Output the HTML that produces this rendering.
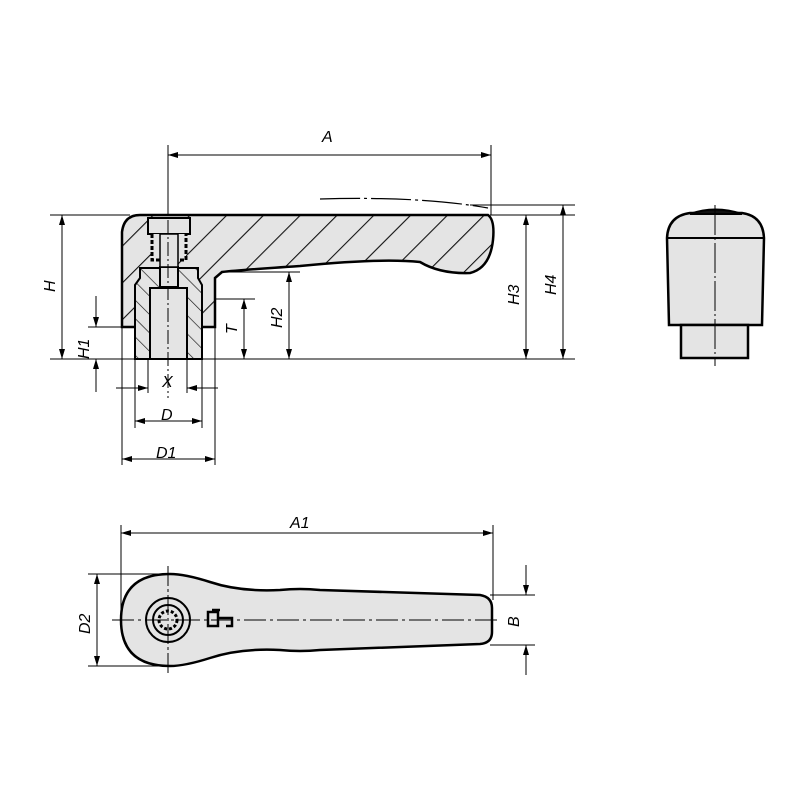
<!DOCTYPE html>
<html><head><meta charset="utf-8"><style>html,body{margin:0;padding:0;background:#fff}svg{display:block}</style></head><body>
<svg width="800" height="800" viewBox="0 0 800 800" xmlns="http://www.w3.org/2000/svg" font-family="Liberation Sans, sans-serif">
<defs>
<pattern id="h" patternUnits="userSpaceOnUse" width="26" height="26" patternTransform="rotate(45)">
<rect width="26" height="26" fill="#e4e4e4"/><line x1="0" y1="0" x2="0" y2="26" stroke="#111" stroke-width="2.2"/></pattern>
<pattern id="h2" patternUnits="userSpaceOnUse" width="13" height="13" patternTransform="rotate(-45)">
<rect width="13" height="13" fill="#e4e4e4"/><line x1="0" y1="0" x2="0" y2="13" stroke="#111" stroke-width="1.3"/></pattern>
<marker id="a" viewBox="0 0 10 6" refX="10" refY="3" markerWidth="14" markerHeight="6" markerUnits="userSpaceOnUse" orient="auto-start-reverse"><path d="M0,0L10,3L0,6z" fill="#000"/></marker>
</defs>
<g stroke="#000" stroke-width="1" fill="none">
<line x1="168" y1="145" x2="168" y2="230"/><line x1="491" y1="145" x2="491" y2="215"/>
<line x1="50" y1="215" x2="130" y2="215"/><line x1="490" y1="215" x2="575" y2="215"/>
<line x1="470" y1="205" x2="575" y2="205"/>
<line x1="50" y1="359" x2="575" y2="359"/>
<line x1="88" y1="327" x2="122" y2="327"/>
<line x1="215" y1="299" x2="255" y2="299"/><line x1="222" y1="272" x2="300" y2="272"/>
<line x1="122" y1="327" x2="122" y2="465"/><line x1="215" y1="327" x2="215" y2="465"/>
<line x1="135" y1="359" x2="135" y2="428"/><line x1="202" y1="359" x2="202" y2="428"/>
<line x1="148" y1="359" x2="148" y2="393"/><line x1="187" y1="359" x2="187" y2="393"/>
<line x1="168" y1="155" x2="491" y2="155" marker-start="url(#a)" marker-end="url(#a)"/>
<line x1="62" y1="215" x2="62" y2="359" marker-start="url(#a)" marker-end="url(#a)"/>
<line x1="96" y1="296" x2="96" y2="327" marker-end="url(#a)"/><line x1="96" y1="392" x2="96" y2="359" marker-end="url(#a)"/>
<line x1="244" y1="299" x2="244" y2="359" marker-start="url(#a)" marker-end="url(#a)"/>
<line x1="289" y1="272" x2="289" y2="359" marker-start="url(#a)" marker-end="url(#a)"/>
<line x1="526" y1="215" x2="526" y2="359" marker-start="url(#a)" marker-end="url(#a)"/>
<line x1="563" y1="205" x2="563" y2="359" marker-start="url(#a)" marker-end="url(#a)"/>
<line x1="116" y1="388" x2="148" y2="388" marker-end="url(#a)"/><line x1="218" y1="388" x2="187" y2="388" marker-end="url(#a)"/>
<line x1="135" y1="421" x2="202" y2="421" marker-start="url(#a)" marker-end="url(#a)"/>
<line x1="122" y1="459" x2="215" y2="459" marker-start="url(#a)" marker-end="url(#a)"/>
<line x1="121" y1="525" x2="121" y2="620"/><line x1="493" y1="525" x2="493" y2="600"/>
<line x1="121" y1="533" x2="493" y2="533" marker-start="url(#a)" marker-end="url(#a)"/>
<line x1="88" y1="574" x2="165" y2="574"/><line x1="88" y1="666" x2="165" y2="666"/>
<line x1="97" y1="574" x2="97" y2="666" marker-start="url(#a)" marker-end="url(#a)"/>
<line x1="490" y1="595" x2="535" y2="595"/><line x1="490" y1="645" x2="535" y2="645"/>
<line x1="526" y1="565" x2="526" y2="595" marker-end="url(#a)"/><line x1="526" y1="675" x2="526" y2="645" marker-end="url(#a)"/>
</g>
<path d="M320,199 Q420,196 488,208" stroke="#000" stroke-width="1.2" fill="none" stroke-dasharray="40,4,3,4"/>
<path d="M140,215 L488,215 Q495,220 493,240 Q490,268 470,273 Q440,274 420,262 Q380,258 300,266 Q240,270 222,272 L215,278 L215,327 L122,327 L122,232 Q124,215 140,215 Z" fill="url(#h)" stroke="#000" stroke-width="2.5"/>
<path d="M135,285 L140,278 L140,268 L198,268 L198,278 L202,285 L202,359 L135,359 Z" fill="url(#h2)" stroke="#000" stroke-width="2"/>
<rect x="150" y="288" width="37" height="71" fill="#e4e4e4" stroke="#000" stroke-width="2"/>
<rect x="160" y="267" width="18" height="20" fill="#e4e4e4" stroke="#000" stroke-width="2"/>
<rect x="148" y="218" width="42" height="16" fill="#e4e4e4" stroke="#000" stroke-width="2"/>
<path d="M152,234 L152,260 L186,260 L186,234" fill="#e4e4e4" stroke="#000" stroke-width="3" stroke-dasharray="4,2"/>
<rect x="160" y="234" width="18" height="33" fill="#e4e4e4" stroke="#000" stroke-width="1.5"/>
<line x1="168" y1="220" x2="168" y2="398" stroke="#000" stroke-width="1" stroke-dasharray="14,3,2,3"/>
<path d="M667,238 Q668,216 690,213 L742,213 Q763,216 764,238 L762,325 L669,325 Z" fill="#e4e4e4" stroke="#000" stroke-width="2.5"/>
<path d="M690,214 Q715,205 742,214 Z" fill="#111" stroke="#000" stroke-width="2"/>
<line x1="667" y1="238" x2="764" y2="238" stroke="#000" stroke-width="2"/>
<rect x="681" y="325" width="67" height="33" fill="#e4e4e4" stroke="#000" stroke-width="2.5"/>
<line x1="715" y1="205" x2="715" y2="366" stroke="#000" stroke-width="1" stroke-dasharray="30,3,2,3"/>
<path d="M170,574 Q185,574 210,582 Q240,592 280,590 Q300,588 320,590 L480,595 Q492,597 492,608 L492,632 Q492,643 480,644 L320,650 Q300,652 280,650 Q240,648 210,658 Q185,666 170,666 Q121,666 121,620 Q121,574 170,574 Z" fill="#e4e4e4" stroke="#000" stroke-width="2.5"/>
<circle cx="168" cy="620" r="22" fill="none" stroke="#000" stroke-width="2"/>
<circle cx="168" cy="620" r="15" fill="none" stroke="#000" stroke-width="2"/>
<circle cx="168" cy="620" r="9" fill="none" stroke="#000" stroke-width="3" stroke-dasharray="3,2"/>
<path d="M208,612 h10 v14 h-10 z M212,610 h8 M218,618 h14 v8 h-6" fill="none" stroke="#000" stroke-width="2.5"/>
<line x1="112" y1="620" x2="500" y2="620" stroke="#000" stroke-width="1" stroke-dasharray="22,4,3,4"/>
<line x1="168" y1="566" x2="168" y2="675" stroke="#000" stroke-width="1" stroke-dasharray="20,3,3,3"/>
<g font-style="italic" font-size="16" fill="#000">
<text x="322" y="142">A</text>
<text x="290" y="528">A1</text>
<text x="162" y="387">X</text>
<text x="161" y="420">D</text>
<text x="156" y="458">D1</text>
<text transform="translate(55,292) rotate(-90)">H</text>
<text transform="translate(89,359) rotate(-90)">H1</text>
<text transform="translate(237,334) rotate(-90)">T</text>
<text transform="translate(282,328) rotate(-90)">H2</text>
<text transform="translate(519,305) rotate(-90)">H3</text>
<text transform="translate(556,295) rotate(-90)">H4</text>
<text transform="translate(90,634) rotate(-90)">D2</text>
<text transform="translate(519,627) rotate(-90)">B</text>
</g>
</svg>
</body></html>
